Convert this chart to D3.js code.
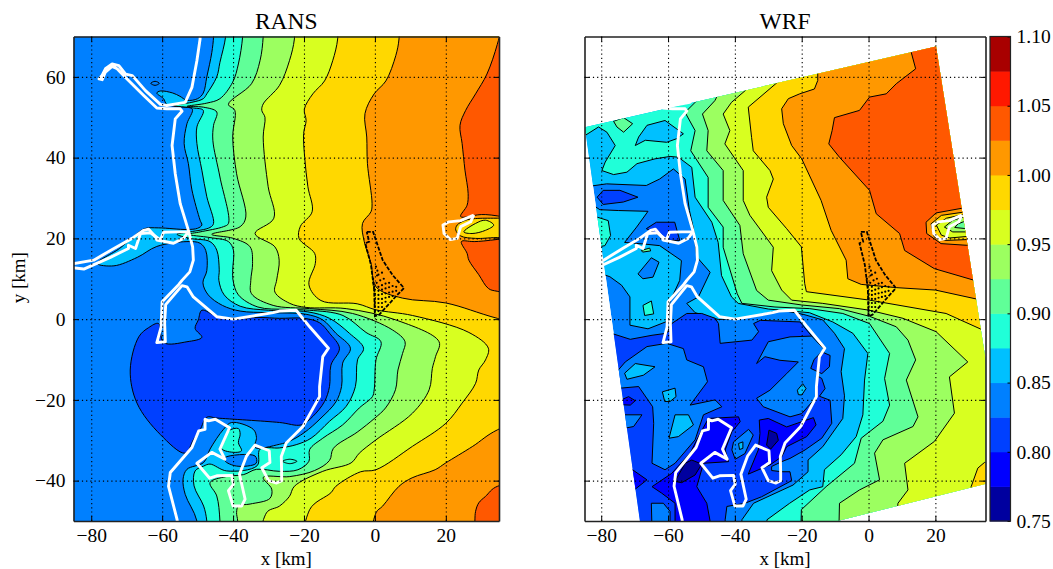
<!DOCTYPE html>
<html><head><meta charset="utf-8">
<script src="https://d3js.org/d3.v7.min.js"></script>
<style>
html,body{margin:0;padding:0;background:#fff}
text{font-family:"Liberation Serif","DejaVu Serif",serif;fill:#000}
</style></head><body><svg id="c" width="1053" height="569"></svg>
<script>
// ---- colour levels ----
const levels=[0.75,0.775,0.80,0.825,0.85,0.875,0.90,0.925,0.95,0.975,1.00,1.025,1.05,1.075,1.10];
const bandColors=["#00009f","#0000ff","#0040ff","#0080ff","#00c0ff","#20ffd8","#60ff98","#9cff60","#d8ff20","#ffd800","#ff9800","#ff5800","#ff1800","#a80000"];
const xTicks=[-80,-60,-40,-20,0,20];
const yTicks=[-40,-20,0,20,40,60];
const barTicks=[0.75,0.80,0.85,0.90,0.95,1.00,1.05,1.10];
const xDomain=[-85,35], yDomain=[-50,70];

// ---- RANS contour regions, km ----
const r085=[[-45.5,75],[-45.5,70],[-46,66],[-47.4,60],[-48.4,56],[-50,54.6],[-53,54.2],[-55,55.2],[-57,56],[-60.5,56.5],[-61.5,56],[-59.6,54.6],[-58.7,53.2],[-55,52.6],[-51.5,52],[-53,48.4],[-53.8,43.5],[-52.6,38.5],[-51.6,32],[-49.3,24.5],[-48.8,23.3],[-50,22.5],[-53,22.2],[-61,22.6],[-65,22.4],[-68,20.5],[-72,17.5],[-78.3,13.8],[-73.6,13.2],[-67,15.3],[-61.5,18],[-53,19.2],[-49.3,18.8],[-47.7,17],[-47.4,12],[-48.5,9],[-47,6],[-43,3.4],[-38,2],[-30,1.6],[-19.4,1.2],[-14.7,-0.2],[-11,-3.5],[-6.9,-7.2],[-9.1,-10.9],[-9.4,-16.7],[-11,-20.5],[-15.2,-24.5],[-19.9,-28.1],[-24,-30.2],[-26.9,-31],[-33.8,-31.8],[-33.4,-29.3],[-34.3,-27.3],[-40.4,-25.6],[-42.7,-27.3],[-46.5,-32.2],[-48.3,-35.5],[-53,-37.2],[-54.1,-39.6],[-53.5,-43.4],[-50.2,-50],[-50,-60],[60,-60],[60,90],[-45.5,90]];
const r0875=[[-42.1,75],[-42.1,70],[-43.7,63.6],[-44.6,60],[-47.4,55.8],[-48.4,54.6],[-51.6,53.7],[-56.8,52.9],[-51.2,52.3],[-48.4,51.7],[-50.2,47.6],[-50.2,43.5],[-48.8,36.9],[-47.4,30.3],[-45.5,23.7],[-46.5,22.7],[-52.1,21.6],[-55.8,21],[-52.1,20],[-46.5,19.2],[-44.6,17.1],[-43.9,12.2],[-44,9.6],[-42.5,6],[-38,3.2],[-30,2.2],[-18.9,1.8],[-12.8,0.2],[-7.2,-3.5],[-3.2,-7.2],[-4.9,-10.1],[-5.5,-16.7],[-8.1,-21.6],[-12.8,-25.3],[-18,-29.5],[-22.2,-31.1],[-26.9,-31.9],[-32.4,-32.2],[-33.2,-36.3],[-41.8,-37.6],[-46.5,-35.9],[-48.3,-36.4],[-50.7,-37.6],[-51,-41.3],[-48.3,-46.3],[-47.4,-50],[-47,-60],[60,-60],[60,90],[-42.1,90]];
const r09=[[-37.3,75],[-37.3,70],[-38.5,63.2],[-40.1,58.7],[-43.7,54.6],[-47.4,53.5],[-53,52.7],[-48.4,52.5],[-44.6,51.3],[-45.5,48],[-45.7,44.3],[-43.7,35.2],[-41.3,23.7],[-42.7,22.9],[-49.3,21.6],[-52.6,21],[-46.5,20.2],[-41.3,19.2],[-39.9,17.1],[-40.1,12.2],[-40,9.6],[-38.5,6],[-33,3],[-25,2.4],[-18.4,2.2],[-9,0.9],[-2.5,-3.3],[1.7,-5.6],[0.3,-10.1],[-0.2,-17.5],[-0.7,-19.2],[-4.4,-22],[-9.1,-26.2],[-14.7,-29.5],[-18.4,-32.3],[-18.6,-35.2],[-21.7,-37.3],[-26.9,-37.7],[-33.4,-37.2],[-37,-38.5],[-42,-39],[-46.5,-40.5],[-44.6,-43.8],[-43.7,-50],[-43.7,-60],[60,-60],[60,90],[-37.3,90]];
const r0925=[[-31.5,75],[-31.5,70],[-32.4,64],[-34.8,58.3],[-41.3,53.2],[-39.5,51.7],[-40.1,45.1],[-39,36],[-36.4,25.3],[-38,22.9],[-46,21],[-39.9,20],[-35.2,17.9],[-34.5,13.8],[-35,9.6],[-34.8,6.3],[-28.7,3.4],[-18.4,2.6],[-6.3,1.4],[5,-2.7],[8.5,-5.6],[7.8,-8.5],[6.5,-12.6],[5.8,-17.5],[3,-22],[0,-24.5],[-5,-28],[-11.7,-32],[-12.8,-35],[-17,-37.5],[-24,-39],[-31.5,-39.2],[-29.1,-42.1],[-29.6,-44.4],[-35.2,-45.8],[-38.5,-46.3],[-39,-47.9],[-38.7,-50],[-38.7,-60],[60,-60],[60,90],[-31.5,90]];
const r095=[[-22.7,75],[-22.7,69.4],[-24.1,64],[-26.9,57.9],[-31.5,53.3],[-31.9,51.7],[-31,50],[-31.5,45.1],[-30.1,32.8],[-28.5,25],[-33.8,21.2],[-28.2,17.9],[-27,14.6],[-27.7,9.7],[-28.2,6.7],[-24,3.9],[-19.4,2.9],[-8.1,2.6],[5.9,-0.2],[18.1,-5.6],[17.1,-9.3],[16.2,-12.2],[15.3,-17.5],[10.6,-23.3],[0.3,-29.9],[-4.4,-33.2],[-6.7,-35.6],[-14.7,-37.7],[-22.7,-41.4],[-24.1,-43.9],[-26.9,-46.3],[-30.6,-48],[-30.6,-60],[60,-60],[60,90],[-22.7,90]];
const r0975=[[-10.5,75],[-10.5,69.4],[-11.9,64],[-14.2,59],[-17.5,55.8],[-19.9,52],[-19.4,49.2],[-20.1,46],[-19.8,40],[-18.9,32.8],[-17.7,26.6],[-21,23],[-21.4,20],[-17,16.3],[-16.8,13.8],[-18.6,8.5],[-15.2,4.6],[-5,3.8],[0.3,2.3],[10.6,0.9],[26.5,-3.3],[32,-7.2],[31.2,-10.1],[29.3,-12.6],[28.4,-15.9],[24.6,-20.8],[20,-25.8],[10.6,-31.5],[0.3,-37.3],[-4,-37.8],[-11,-41.4],[-12.4,-43],[-18.4,-47.2],[-18.4,-60],[60,-60],[60,90],[-10.5,90]];
const r10a=[[6.8,75],[6.8,69.4],[5.9,65.3],[3.1,59],[-0.2,55.8],[-2.8,50.9],[-2.3,45.1],[-2.1,38.5],[-0.8,28.6],[-1.1,26.6],[-3.5,23.7],[-3,19.2],[-1.1,13.8],[0.3,8],[7.8,5.2],[20,4],[34.5,0.2],[60,-5],[60,90],[6.8,90]];
const r10b=[[60,-20],[34.6,-27.4],[27.6,-31.5],[20,-35.6],[17,-37.3],[10.5,-39.3],[6.8,-41.4],[2.2,-46.3],[0.3,-48],[0.3,-60],[60,-60]];
const r1025a=[[35.5,72],[34.5,68],[31.6,60.7],[28.4,55.8],[25.6,51.7],[24,48],[24.6,43.5],[25.4,36.9],[26.3,31.1],[26,28.2],[24.2,25.4],[30,25.9],[60,26.2],[60,90],[36,90]];
const r1025b=[[60,19.2],[28,19.2],[24.4,19.2],[26,16.3],[26.5,14.6],[29.3,11],[32,7.6],[34.5,6.9],[60,5]];
const r1025c=[[60,-41],[34.6,-41.4],[31.2,-43.9],[29.3,-45.5],[28.4,-47.6],[28.2,-50],[28.2,-60],[60,-60]];
const rWakeYellow=[[60,25],[34.5,25],[28.4,24.9],[25.6,24.5],[23.2,23.3],[22.8,22.1],[24.2,20.6],[28.4,20],[34.5,20.2],[60,20]];
const rWakeLemon=[[25.1,21.6],[28.4,23.7],[31.2,24.5],[33.5,23.3],[31.2,22],[27.4,21.2]];
const rDark=[[-61,-1.1],[-59.6,-5.8],[-53,-5.6],[-48.8,-4.5],[-50.7,-2.3],[-49.8,-0.2],[-48.8,2.2],[-44.6,0.7],[-39.9,0.2],[-32.4,0.4],[-26.9,0.2],[-20,0.2],[-15.6,-0.9],[-12.8,-3.5],[-10,-7.2],[-12.4,-11.4],[-12.8,-16.7],[-14.2,-20.4],[-17.5,-24.1],[-20.8,-26.2],[-26.9,-25.6],[-44.6,-24.5],[-47.4,-24.3],[-49.3,-27.4],[-51.2,-29.9],[-53.5,-33.2],[-60.5,-28.6],[-67.1,-20.8],[-69,-12.6],[-66.6,-4.4],[-63.8,-2.1]];
const rBluePatch=[[-42.3,-34.3],[-33.8,-33.9],[-33.5,-35.7],[-39,-36.4],[-42.3,-35.1]];
const rTurqPatch=[[-42.3,-29.8],[-41.3,-27.7],[-38.5,-27.1],[-38,-28.5],[-38.5,-30.6],[-37.6,-32.6],[-39.4,-33],[-43.2,-32.1]];
const rTinyTurq=[[-26,-35.2],[-24,-34.7],[-22,-35.2],[-24,-35.8]];
const rTinyBlue=[[-63.2,58.4],[-62,58.9],[-60.8,58.4],[-62,57.9]];

// ---- WRF contour regions, km ----
const wDomain=[[-84.9,47.5],[20.2,67.5],[40.7,-39.6],[-9.3,-50],[-66.4,-62]];
const wC1=[[-90,32.5],[-84.4,32.8],[-78.4,33.5],[-66.5,33.1],[-62.5,34.7],[-58.4,37.2],[-54.9,34.7],[-53.6,26.9],[-52.4,22.4],[-51.4,15.4],[-47.4,11.6],[-50.9,5.5],[-54.4,3.9],[-51.9,1.6],[-44.9,-0.1],[-37.9,0.2],[-26,2.2],[-19.6,1.2],[-13.7,-0.2],[-10.2,-3.5],[-7.2,-7.3],[-8.2,-13],[-7.2,-19],[-7.7,-24.6],[-13.7,-31.6],[-18.1,-34.9],[-18.1,-37.8],[-22.6,-41.1],[-34.4,-45.6],[-37.9,-49.7],[-38,-65],[60,-65],[60,90],[-90,90]];
const wC2=[[-90,29.5],[-83.9,29],[-80.4,27.1],[-74.9,26.9],[-66,26.7],[-69.4,22.8],[-73,19],[-66,18.5],[-62.5,18.2],[-56,14.5],[-56.5,9.6],[-59.5,4.2],[-59.5,-0.3],[-66,-2.4],[-71.4,-1.5],[-71.4,5.5],[-73.9,8.4],[-77.4,10.5],[-81,11.5],[-90,12]];
const wT=[[-90,45],[-84.8,45.5],[-80.8,47.6],[-78.3,46.3],[-75.8,43],[-78.8,38.9],[-79.8,36.8],[-76.3,35.8],[-72.3,36.4],[-69.3,38.5],[-63.9,39.7],[-59.4,40.3],[-56.9,40.1],[-52.9,37.6],[-51.9,30.2],[-46.9,24],[-45,19],[-44,10.8],[-41,5.5],[-39,3.9],[-30,2.5],[-17.7,1.6],[-10.7,-0.7],[-4.7,-3.5],[-0.2,-8.5],[-1.2,-15.1],[-1.7,-23.7],[-3.7,-29.1],[-8.2,-33.6],[-13.2,-37.3],[-13.7,-41.5],[-17.6,-42.3],[-23.6,-45.6],[-30.4,-49.7],[-30.4,-65],[60,-65],[60,90],[-90,90]];
const w09=[[-47,60],[-51.4,54.1],[-54.9,51.2],[-51.9,46.7],[-53.2,41.7],[-48,35.1],[-48,27.7],[-43.5,22.8],[-43.5,17.8],[-39.3,6.3],[-37.9,3.9],[-28,3],[-17.6,2.6],[-7.7,1.4],[0.3,-1.1],[6.3,-8.5],[4.8,-14.7],[6.3,-21.3],[4.3,-25.3],[-2.2,-29.5],[-4.2,-35.7],[-12.7,-41.5],[-20.1,-47.2],[-20.6,-65],[60,-65],[60,90],[-47,90]];
const w0925=[[-41,62],[-46,54.1],[-49.7,50.8],[-48,46.7],[-48.4,41.7],[-43.5,36.8],[-43.5,29.4],[-38.5,23.2],[-37.5,16.2],[-33.5,7.1],[-30,4.7],[-20,3.5],[-8.7,2.6],[0.3,0.7],[8.3,-1.9],[11.8,-5.2],[14.1,-10.1],[11.3,-15.1],[14.8,-24.2],[13.3,-26.6],[4.3,-29.9],[1.8,-33.2],[3.3,-39.8],[-2.7,-42.3],[-8.7,-45.6],[-9.2,-65],[60,-65],[60,90],[-41,90]];
const w095=[[-30,62],[-36.9,56.6],[-41,53.7],[-43.5,50.8],[-41.5,46.7],[-43,43.4],[-37.5,36.8],[-37.5,29.4],[-35.5,25.7],[-28.5,17.8],[-29,12],[-26,7.2],[-23,4.7],[-13.7,3.9],[0.3,2.2],[10.3,0.2],[20.2,-3.1],[29.7,-10.6],[24.2,-14.3],[25.7,-23.3],[19.7,-30.3],[10.8,-35.7],[11.8,-42.3],[8.8,-45.6],[7,-65],[60,-65],[60,90],[-30,90]];
const w0975a=[[-22,63],[-27.2,58.7],[-36,52.5],[-35,45],[-34.5,41.7],[-29.5,36.8],[-28.5,34.7],[-30.5,30.2],[-30,27.7],[-24.5,22.4],[-20.1,17.9],[-19.1,8.8],[-18.6,6.8],[0.3,4.7],[23.2,1.4],[34.2,-2.7],[60,-8],[60,90],[-22,90]];
const w0975b=[[34.7,-35.5],[32.7,-36.9],[30.7,-41.5],[30,-65],[60,-65],[60,-35]];
const w10=[[-10,65],[-15.2,60.9],[-15.2,59.1],[-16.2,57],[-20.6,55.8],[-24,54.6],[-26,52.1],[-25.5,48.4],[-23,43],[-20,39.7],[-14.2,29.4],[-11.2,22],[-6.7,14.6],[-6.2,10],[-2.2,8.6],[8.3,7.8],[20,7.2],[32.2,5],[60,1],[60,90],[-10,90]];
const w1025=[[12.8,70],[12.8,66],[14.1,62],[8.3,58.3],[5.3,55.8],[0.3,55],[-2.7,51.7],[-10.2,49.9],[-10.9,46.7],[-11.9,43.4],[-8.7,40.1],[0.3,31.9],[2.3,26.1],[9.3,21.2],[10.8,17],[19.7,12.5],[31.7,9.6],[60,5],[60,90],[12.8,90]];
const wWake10=[[45,27.6],[28.2,27.5],[20.2,26.3],[17.2,24],[17.4,21.2],[21.7,18.7],[29.2,18.3],[45,18]];
const wWake0975=[[45,26.6],[28.4,26.5],[21.8,25.7],[18.7,23.6],[19.7,20.3],[23.2,19.5],[29.4,19.7],[45,19.7]];
const wWake095=[[45,26],[28.4,25.9],[23.3,25],[20.3,23.3],[21.8,20.8],[24.3,20.1],[29.8,20.5],[45,20.5]];
const wWake0925=[[45,25.4],[28.7,25.3],[25.2,24.5],[22.7,22.8],[25.2,21.6],[29.7,21.6],[45,21.6]];
const wWake09=[[45,24.4],[29,24.3],[26.8,23.6],[25.8,22.7],[29.3,22.4],[45,22.4]];
const wTopGreen=[[-76.3,49],[-73.3,49.9],[-70.6,48.4],[-73.3,46.3],[-75.3,47.6]];
const wUpperCyan=[[-69.8,43],[-68.8,45.1],[-66.3,48],[-60.9,49.2],[-55.4,45.9],[-57.4,44.7],[-60.4,43.8],[-66.8,44.3]];
const wBlobA=[[-81.2,30.2],[-79.4,31.9],[-74.4,31.9],[-69,30.2],[-73.4,29],[-79.4,28.4]];
const wBlobB=[[-66.5,22.4],[-63.5,24],[-58,24],[-56.5,19.5],[-60,19.5],[-62.5,20.7]];
const wHole=[[-69,11.2],[-65,15.2],[-62.7,14.1],[-64.5,10.4],[-67.5,10]];
const wLeftTurq=[[-90,26],[-82.9,25.7],[-77.9,24.4],[-77.2,20.7],[-78.9,18.2],[-81.4,17.8],[-90,17.5]];
const wTurqSmall=[[-67.5,3.4],[-65,4.5],[-64.3,1.3],[-67,0.9]];
const wTinyBar=[[-68,17],[-65.5,17.6],[-65.2,16.9],[-67.6,16.6]];
const wP=[[-90,-3],[-77,-3.5],[-71.3,-5],[-64.8,-4],[-60.4,-3.5],[-58.9,-1.1],[-54.4,1.4],[-49.9,1.4],[-45.9,0.2],[-44.9,-1.1],[-44.4,-6],[-34.9,-5.2],[-32.9,-3.1],[-34.4,-1.1],[-32.4,-0.3],[-20.5,-0.7],[-17,-4.2],[-15,-8],[-15.5,-14],[-14,-14.7],[-13,-17.2],[-14.7,-19.1],[-11.5,-20.1],[-11,-25.8],[-14,-29.5],[-19,-32.4],[-23.5,-34.5],[-26,-35.3],[-29,-36.5],[-29,-37.5],[-26,-37.8],[-23.5,-37.8],[-23,-40],[-32,-44],[-37,-45.6],[-42.4,-46.4],[-42.9,-49.7],[-42.9,-65],[-90,-65]];
const wQ=[[-33.5,-11],[-30,-5.6],[-23.5,-4.4],[-17,-4.2],[-13.5,-7.3],[-15.5,-14],[-15.5,-19.2],[-20,-23.4],[-23.5,-24.2],[-31.5,-21.7],[-33.5,-19.6],[-29.5,-17.6],[-24.5,-13.5],[-21,-10.6],[-26.5,-10.2],[-31,-9.3]];
const wRightBlob=[[-14,-8.1],[-11.5,-9],[-11.7,-11.8],[-14,-13.5],[-17.3,-12.2],[-16.3,-10]];
const wS=[[-85,-13],[-75.3,-13],[-72.8,-10.6],[-66.3,-6.8],[-60.4,-6],[-55.4,-7.3],[-54.4,-10.1],[-49.4,-11.8],[-48.2,-15.5],[-53.4,-21.3],[-45.9,-20],[-43.9,-21.7],[-49.4,-23.7],[-51.9,-29.9],[-57.9,-35.7],[-60.9,-37.3],[-64.8,-35.7],[-64.3,-25.8],[-64.6,-21.7],[-68.8,-16.7],[-74.3,-17.1],[-85,-17.5]];
const wCyanA=[[-73,-13.4],[-69.8,-11],[-63.9,-11.8],[-67.4,-13.9],[-72.3,-14.9]];
const wCyanB=[[-61.7,-18],[-57.9,-17.1],[-57.6,-19.2],[-59.4,-20.4],[-61,-20.4]];
const wCyanC=[[-57.9,-23.7],[-53.9,-23.7],[-52.4,-26.2],[-56.9,-29.1],[-59.7,-29.5]];
const wCyanD=[[-21.3,-17.6],[-19.7,-16],[-18.7,-17.2],[-20,-18.8],[-21,-18.7]];
const wLeftLens=[[-73,-23.7],[-67.8,-23.7],[-70.3,-26.6],[-72.8,-27],[-80,-27],[-80,-23.7]];
const wLeftDeep=[[-74,-20],[-71.8,-19.2],[-69.8,-20.2],[-71.3,-21.3],[-74,-21.2]];
const wBottomPatch=[[-65,-45.6],[-61.4,-45.6],[-59.4,-47.6],[-59.4,-65],[-64.4,-65]];
const wDeep1=[[-64.8,-41.5],[-58.9,-38.2],[-53.4,-33.2],[-50.4,-28.3],[-47.9,-24.6],[-38.9,-24.2],[-38.4,-25.4],[-40.9,-27.9],[-42.9,-32.4],[-41.9,-35.3],[-49.4,-35.7],[-51.4,-41.5],[-48.4,-45.6],[-47.4,-50.1],[-47.4,-65],[-57.9,-65],[-57.9,-45.6],[-61.9,-43.1]];
const wNavy1=[[-57.9,-40.2],[-54.9,-35.7],[-52.9,-34.9],[-49.9,-35.9],[-51.9,-38.6],[-55.9,-40.5]];
const wDeepLeft=[[-70.8,-37.2],[-66.3,-39.8],[-69.8,-42.1],[-75,-42],[-75,-37]];
const wDeep2=[[-32.7,-25],[-30,-24.6],[-24.5,-26.7],[-16.5,-24.4],[-15.7,-26.2],[-18.5,-29.1],[-24.5,-31.6],[-26,-34.1],[-29.5,-36.1],[-36,-38.4],[-33,-32.4],[-32.5,-28.3]];
const wNavy2=[[-29.8,-27.5],[-27.5,-28.3],[-27,-30],[-29.3,-32.2],[-30.5,-31.2]];
const wCentre=[[-40.4,-30.4],[-35.9,-27.3],[-34.5,-28.7],[-37,-33.3],[-39.9,-34.7],[-40.9,-32.4]];
const wCentreTiny=[[-38.9,-30.8],[-37.6,-30.4],[-37.6,-32],[-38.6,-32.3]];

// ---- coastline, km ----
const coastMain=[[-49.3,72],[-49.3,69.4],[-50.2,64],[-51.6,57.4],[-53.5,53.7],[-58.7,52.9],[-60.5,53.2],[-64.7,56.6],[-68.4,60.3],[-70.3,60.7],[-72.2,62.8],[-74.1,63.2],[-76,62],[-76.9,60.4],[-77.8,59.5],[-76.9,59.3],[-76,61.2],[-74.1,62.6],[-72.7,62],[-70.4,59.9],[-65.2,55.4],[-61.5,52.3],[-58.7,52.1],[-54.9,52.1],[-54.4,51.5],[-56.3,49.6],[-57.2,43],[-56.3,36],[-54.9,28.6],[-52.6,22],[-51.4,17.9],[-51.2,14.6],[-52.2,11.7],[-54.4,9.6],[-55.3,8.6],[-60,4.3],[-60.3,-2],[-61.5,-5.8],[-59.1,-5.6],[-59.3,-1],[-59,3.6],[-54.4,8.3],[-53,8],[-51.2,5.5],[-44.6,0.6],[-39.9,0],[-28.7,1.6],[-26.9,2],[-22.2,2.2],[-18.4,-1.9],[-13.1,-7.2],[-14.7,-9.3],[-15.6,-16.7],[-15.6,-19.2],[-20.3,-26.6],[-25,-30.7],[-26.4,-34],[-26.3,-38],[-26.3,-40],[-27.7,-40.6],[-30,-40],[-31.9,-36.8],[-29.6,-35.5],[-29.8,-32.6],[-33.8,-31.2],[-36.2,-33.9],[-38.2,-38.4],[-36.6,-44.6],[-37.6,-46.3],[-40,-46.3],[-41.3,-42.5],[-39.9,-40.9],[-40.4,-38.7],[-44.6,-38.8],[-46.6,-39.4],[-50.2,-35.7],[-46,-33],[-42.3,-34.7],[-43.7,-32.2],[-41,-26.9],[-45,-24.8],[-46.9,-25.2],[-47.9,-24.8],[-47.9,-27.3],[-49.7,-27.7],[-51.6,-31.8],[-57.7,-38],[-58.2,-41.4],[-55.8,-49.6],[-55.3,-53]];
const coastIslandA=[[-86,13.6],[-79.3,14.6],[-73.6,17.5],[-68.5,20],[-65.2,22],[-63.8,22.3],[-61.9,20.4],[-61.5,19.6],[-56.8,18.8],[-54,20],[-52.6,21.6]];
const coastIslandB=[[-86,12.8],[-82.1,12.4],[-74.6,15.3],[-69.5,17.5],[-69.5,18.3],[-67.5,17.5],[-66.1,21.2],[-63.3,21.4],[-60.5,19.6],[-59.6,21.5],[-55.8,21.6],[-52.6,21.6]];
const coastEast=[[27.9,25.8],[27,24.1],[24.2,22.9],[23.2,20],[21.3,19.7],[19.5,21.2],[19.2,23.3],[20.9,24.1],[24.2,24.4],[27.9,25.8]];

// ---- wind farm, km ----
const farmOutline=[[-2.3,21.6],[-0.5,21.6],[2.2,14.6],[5,10.9],[8.2,7.7],[5.9,5.6],[1.2,1.1],[0,0.7],[-0.2,7.2],[-1.1,13.4],[-2.7,18.8],[-1.6,19.2],[-2.3,21.6]];
const farmTurbines=[[0,1],[0,2],[0,3],[0,4],[0,5],[0,6],[-0.1,7],[-0.2,8],[-0.4,9],[-0.5,10],[0.5,9],[1.5,9.6],[2.5,10],[1,8],[2,8.4],[3,8.8],[4,9],[1,7],[2,7.3],[3,7.6],[4,7.9],[5,8.2],[6,8],[1,6],[2,6.2],[3,6.4],[4,6.6],[5,6.8],[6,7],[1,5],[2,5],[3,5.3],[4,5.5],[5,5.7],[1,4],[2,4],[3,4.3],[1,3],[2,3],[1,2],[0.6,10.8],[0.7,12],[1,11],[2,11.5],[0.3,13]];

// band index, polygon; painted in this order
const ransLayers=[[4,r085],[5,r0875],[6,r09],[7,r0925],[8,r095],[9,r0975],[10,r10a],[10,r10b],[11,r1025a],[11,r1025b],[11,r1025c],
 [9,rWakeYellow],[8,rWakeLemon],[2,rDark],[3,rBluePatch],[5,rTurqPatch],[5,rTinyTurq],[3,rTinyBlue]];
const wrfLayers=[[4,wC1],[4,wC2],[5,wT],[6,w09],[7,w0925],[8,w095],[9,w0975a],[9,w0975b],[10,w10],[11,w1025],
 [10,wWake10],[9,wWake0975],[8,wWake095],[7,wWake0925],[6,wWake09],
 [6,wTopGreen],[4,wUpperCyan],[2,wBlobA],[2,wBlobB],[3,wHole],[5,wLeftTurq],[5,wTurqSmall],[6,wTinyBar],
 [2,wP],[3,wQ],[2,wRightBlob],[3,wS],[4,wCyanA],[4,wCyanB],[4,wCyanC],[4,wCyanD],[3,wLeftLens],[1,wLeftDeep],[3,wBottomPatch],
 [1,wDeep1],[0,wNavy1],[1,wDeepLeft],[1,wDeep2],[0,wNavy2],[3,wCentre],[4,wCentreTiny]];

const svg=d3.select("#c");
const yTop=36.5,yBot=521;
const fmt=d=>String(d).replace("-","\u2212");

function panel(id,left,right,title,layers,domainPoly,showY){
  const x=d3.scaleLinear().domain(xDomain).range([left,right]);
  const y=d3.scaleLinear().domain(yDomain).range([yBot,yTop]);
  const g=svg.append("g");
  const defs=svg.append("defs");
  defs.append("clipPath").attr("id","ax"+id).append("rect").attr("x",left).attr("y",yTop).attr("width",right-left).attr("height",yBot-yTop);
  const fillLine=d3.line().x(d=>x(d[0])).y(d=>y(d[1])).curve(domainPoly?d3.curveLinearClosed:d3.curveCatmullRomClosed.alpha(0.5));
  const closed=d3.line().x(d=>x(d[0])).y(d=>y(d[1])).curve(d3.curveLinearClosed);
  const open=d3.line().x(d=>x(d[0])).y(d=>y(d[1])).curve(d3.curveLinear);
  const area=g.append("g").attr("clip-path",`url(#ax${id})`);
  let fills=area;
  if(domainPoly){
    defs.append("clipPath").attr("id","dom"+id).append("path").attr("d",closed(domainPoly));
    fills=area.append("g").attr("clip-path",`url(#dom${id})`);
    fills.append("path").attr("d",closed(domainPoly)).attr("fill",bandColors[3]);
  } else {
    fills.append("rect").attr("x",left).attr("y",yTop).attr("width",right-left).attr("height",yBot-yTop).attr("fill",bandColors[3]);
  }
  fills.selectAll("path.band").data(layers).join("path").attr("class","band")
    .attr("d",d=>fillLine(d[1])).attr("fill",d=>bandColors[d[0]])
    .attr("stroke","#000").attr("stroke-width",1).attr("stroke-linejoin","round");
  const h=yBot-yTop,w=right-left;
  g.append("g").attr("transform",`translate(0,${yBot})`).call(d3.axisBottom(x).tickValues(xTicks).tickSize(-h).tickFormat(""))
    .call(s=>s.select(".domain").remove()).selectAll("line").attr("stroke","#000").attr("stroke-width",1.1).attr("stroke-dasharray","1.2,3");
  g.append("g").attr("transform",`translate(${left},0)`).call(d3.axisLeft(y).tickValues(yTicks).tickSize(-w).tickFormat(""))
    .call(s=>s.select(".domain").remove()).selectAll("line").attr("stroke","#000").attr("stroke-width",1.1).attr("stroke-dasharray","1.2,3");
  area.selectAll("path.coast").data([coastMain,coastIslandA,coastIslandB,coastEast]).join("path").attr("class","coast")
    .attr("d",open).attr("fill","none").attr("stroke","#fff").attr("stroke-width",2.9).attr("stroke-linejoin","round");
  area.append("path").attr("d",open(farmOutline)).attr("fill","none").attr("stroke","#000").attr("stroke-width",1.8).attr("stroke-dasharray","4,1.5");
  area.selectAll("circle").data(farmTurbines).join("circle").attr("cx",d=>x(d[0])).attr("cy",d=>y(d[1])).attr("r",1.1).attr("fill","#000");
  const tk=(sel)=>sel.call(s=>s.selectAll("line").attr("stroke","#000").attr("stroke-width",1))
     .call(s=>s.select(".domain").attr("stroke","#222").attr("stroke-width",1.6));
  const ax=g.append("g").attr("transform",`translate(0,${yBot})`).call(d3.axisBottom(x).tickValues(xTicks).tickSize(-5).tickPadding(7).tickSizeOuter(0).tickFormat(fmt));
  tk(ax); ax.selectAll("text").attr("font-size",19.5).style("font-family",'"Liberation Serif"');
  tk(g.append("g").attr("transform",`translate(0,${yTop})`).call(d3.axisTop(x).tickValues(xTicks).tickSize(-5).tickSizeOuter(0).tickFormat("")));
  const ay=g.append("g").attr("transform",`translate(${left},0)`).call(d3.axisLeft(y).tickValues(yTicks).tickSize(-5).tickPadding(8).tickSizeOuter(0).tickFormat(showY?fmt:""));
  tk(ay); ay.selectAll("text").attr("font-size",19.5).style("font-family",'"Liberation Serif"');
  tk(g.append("g").attr("transform",`translate(${right},0)`).call(d3.axisRight(y).tickValues(yTicks).tickSize(-5).tickSizeOuter(0).tickFormat("")));
  svg.append("text").attr("x",(left+right)/2).attr("y",29).attr("text-anchor","middle").attr("font-size",23.5).text(title);
  svg.append("text").attr("x",(left+right)/2).attr("y",565).attr("text-anchor","middle").attr("font-size",19).text("x [km]");
  if(showY) svg.append("text").attr("transform",`translate(25,${(yTop+yBot)/2-1}) rotate(-90)`).attr("text-anchor","middle").attr("font-size",19).text("y [km]");
}
panel("a",73.5,499,"RANS",ransLayers,null,true);
panel("b",584.5,985.5,"WRF",wrfLayers,wDomain,false);

// colour bar
const cy=d3.scaleLinear().domain([levels[0],levels[levels.length-1]]).range([yBot,yTop]);
const bar=svg.append("g");
bar.selectAll("rect").data(bandColors).join("rect").attr("x",990).attr("width",20.5)
  .attr("y",(d,i)=>cy(levels[i+1])).attr("height",(d,i)=>cy(levels[i])-cy(levels[i+1])+0.5).attr("fill",d=>d);
const barAxis=bar.append("g").attr("transform","translate(1010.5,0)")
  .call(d3.axisRight(cy).tickValues(barTicks).tickSize(-3).tickPadding(6).tickSizeOuter(0).tickFormat(d3.format(".2f")));
barAxis.select(".domain").remove();
barAxis.selectAll("line").attr("stroke","#000");
barAxis.selectAll("text").attr("font-size",19.5).style("font-family",'"Liberation Serif"');
bar.append("rect").attr("x",990).attr("y",yTop).attr("width",20.5).attr("height",yBot-yTop).attr("fill","none").attr("stroke","#222").attr("stroke-width",1.2);
</script></body></html>
